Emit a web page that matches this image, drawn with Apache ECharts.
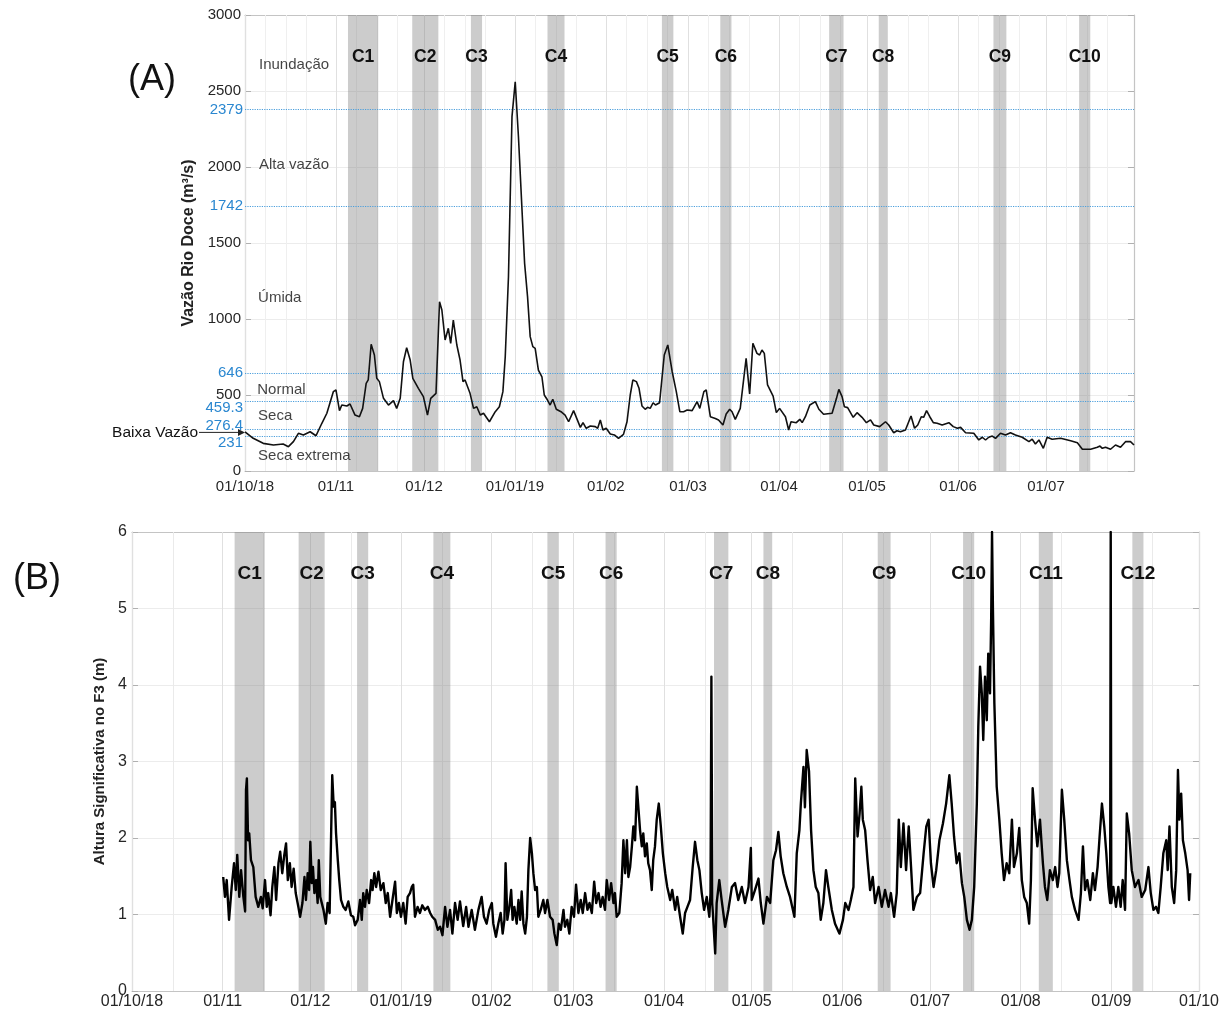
<!DOCTYPE html>
<html><head><meta charset="utf-8">
<script src="https://cdn.jsdelivr.net/npm/echarts@6/dist/echarts.min.js"></script>
<style>html,body{margin:0;padding:0;background:#fff}#c{width:1226px;height:1015px}</style>
</head><body><div id="c"></div>
<script>
// ---------- DATA (days counted from 01/10/2018) ----------
const monthStart = [0, 31, 61, 92, 123, 151, 182, 212, 243, 273, 304, 335, 365];
const monthLabel = ['01/10/18', '01/11', '01/12', '01/01/19', '01/02', '01/03', '01/04', '01/05', '01/06', '01/07', '01/08', '01/09', '01/10'];

// Panel A: Rio Doce discharge (m3/s)
const flowDay = [0,2.8,6.2,9.7,13,14.8,16.5,18.2,19.9,22.2,24.2,26.2,27.9,30.1,31,32.2,33,34.7,35.8,37.5,39,40.1,41.3,42,43,44.1,44.9,45.8,47.2,48.9,50.6,51.7,52.9,54,55.1,56.3,57.2,59.1,60.8,62.2,63.3,65.1,66.3,67.1,68.2,69.3,70.1,71,72.2,73.3,74.3,75,76.7,77.9,79,80.2,81.3,83.3,85.3,86.7,87.9,88.7,89.8,91,92.1,93.2,95.3,96.3,97.2,98.1,98.9,100,101.2,102,103.1,104,104.9,106.1,107.7,109.1,110.3,112,114.3,115.2,116.3,117.7,119.4,120.2,121.1,122,123.1,124.5,125.9,127.3,129,130.2,131.3,132.2,133.4,134.3,135.3,136.4,137.2,138.1,139.1,139.9,141.3,142.9,144.1,145.6,147,148.2,149.5,150.7,152.4,154.1,155,156.4,157.2,158.6,160.3,161.4,162.9,164,165.2,166,167.1,168.8,170.8,172,173.1,174.5,175.4,176.2,177,178.1,180,181.1,182.2,184.2,185.3,186.1,187.9,189.1,189.9,191,192.5,194.4,195.6,197.2,200.1,201.6,202.4,203.5,204.3,205.4,207.3,208.6,210.3,211.8,213.2,214.3,216.3,218.3,219.4,221.1,222.2,223.4,225.1,227,228.2,229.3,230.5,231.3,232.3,233.4,234.6,235.9,237.6,239.9,241.4,242.8,243.9,245.6,248.4,250.1,251.3,252.4,253.5,254.7,255.8,257.5,259.2,260.9,262.6,264.9,267.2,268.3,269.4,270.6,272.1,273.4,275.1,278,281.4,283.7,285.4,288.2,290.5,291.4,292.2,293.3,295,296.7,298.4,300.1,301.8,303];
const flowValue = [258,215,182,171,178,160,193,248,237,258,232,314,380,522,533,397,434,428,441,368,357,412,577,599,834,763,610,588,478,434,463,412,478,719,811,730,610,544,489,368,478,511,1114,1059,862,939,840,993,829,730,588,599,511,412,423,368,380,324,390,423,522,752,1278,2331,2561,2199,1366,1147,884,818,807,664,620,500,467,434,472,406,390,368,324,397,287,318,281,296,292,281,336,270,281,243,237,215,241,324,500,599,588,544,428,406,419,412,449,434,449,763,829,653,522,390,390,401,397,456,412,522,533,357,346,336,303,375,406,390,340,412,741,507,840,774,763,796,774,566,493,384,412,357,270,324,318,340,318,357,434,456,406,373,380,478,537,489,423,417,353,384,353,318,336,303,292,324,303,252,265,258,270,362,281,303,357,353,397,357,318,314,303,318,292,281,287,252,248,204,222,204,222,230,215,248,237,252,237,222,193,209,178,204,149,222,209,215,199,186,143,143,156,164,149,156,143,171,156,193,193,171];

// Flow class thresholds
const thresholdValue = [2379, 1742, 646, 459.3, 276.4, 231];
const thresholdLabel = ['2379', '1742', '646', '459.3', '276.4', '231'];
const lowFlowArrowValue = 254;

// Flow class names
const regionName = ['Inundação', 'Alta vazão', 'Úmida', 'Normal', 'Seca', 'Seca extrema'];
const regionDay = [4.6, 4.6, 4.3, 4.0, 4.3, 4.3];
const regionValue = [2670, 2015, 1140, 535, 365, 98];

// Events (shaded bands)
const bandName = ['C1','C2','C3','C4','C5','C6','C7','C8','C9','C10','C11','C12'];
const bandStart = [35.1, 57.0, 77.0, 103.1, 142.1, 162.0, 199.1, 216.0, 255.1, 284.3, 310.2, 342.2];
const bandEnd   = [45.4, 65.9, 80.8, 108.9, 146.0, 165.8, 204.0, 219.0, 259.5, 288.1, 315.0, 346.0];

// Panel B: significant wave height at F3 (m), [day, Hs]
const waveHeight = [[31.2,1.49],[31.8,1.23],[32.4,1.45],[33.2,0.93],[34.1,1.36],[34.9,1.67],[35.5,1.32],[36.0,1.78],[36.7,1.23],[37.3,1.58],[38.1,1.23],[38.7,1.04],[39.0,2.63],[39.3,2.78],[39.7,1.97],[40.1,2.06],[40.7,1.71],[41.5,1.62],[42.3,1.23],[43.2,1.10],[44.1,1.23],[44.7,1.08],[45.5,1.45],[46.1,1.10],[46.6,1.28],[47.4,0.99],[48.0,1.36],[48.7,1.62],[49.3,1.19],[50.1,1.67],[50.7,1.82],[51.4,1.54],[52.1,1.78],[52.7,1.93],[53.3,1.45],[54.0,1.67],[54.6,1.36],[55.3,1.60],[56.0,1.28],[56.9,1.10],[57.5,0.97],[58.3,1.15],[59.0,1.49],[59.5,1.19],[60.1,1.54],[60.6,1.32],[61.0,1.95],[61.5,1.41],[61.9,1.62],[62.4,1.28],[63.0,1.45],[63.5,1.15],[63.9,1.71],[64.4,1.23],[65.5,1.06],[66.3,0.88],[66.9,1.15],[67.6,1.02],[68.1,2.02],[68.5,2.82],[69.0,2.41],[69.4,2.47],[69.8,2.06],[70.4,1.71],[70.9,1.45],[71.5,1.19],[72.3,1.10],[73.1,1.06],[74.0,1.17],[74.9,0.99],[75.7,0.97],[76.3,0.86],[77.2,0.93],[78.0,1.19],[78.6,0.93],[79.1,1.28],[79.7,1.10],[80.3,1.32],[81.1,1.15],[81.8,1.45],[82.3,1.32],[82.9,1.54],[83.5,1.36],[84.3,1.56],[85.1,1.32],[86.0,1.41],[86.8,1.15],[87.5,1.28],[88.3,0.97],[89.1,1.19],[90.0,1.43],[90.6,1.02],[91.3,1.15],[92.0,0.97],[92.8,1.15],[93.6,0.88],[94.3,1.23],[95.1,1.28],[95.7,1.36],[96.2,1.39],[96.8,0.97],[97.7,1.10],[98.5,1.02],[99.3,1.12],[100.2,1.06],[101.2,1.10],[102.0,1.02],[102.7,0.97],[103.7,0.93],[104.6,0.80],[105.4,0.84],[106.2,0.73],[107.1,1.10],[107.9,0.84],[108.8,1.06],[109.6,0.75],[110.5,1.15],[111.4,0.93],[112.2,1.17],[113.3,0.85],[114.3,1.10],[115.1,0.84],[116.2,1.06],[117.3,0.80],[118.5,1.06],[119.6,1.23],[120.4,0.97],[121.3,0.88],[122.2,1.06],[123.1,1.15],[123.6,0.88],[124.5,0.71],[125.3,0.88],[126.1,1.02],[126.8,0.75],[127.4,0.93],[127.8,1.67],[128.4,0.93],[129.1,1.10],[129.7,1.32],[130.2,0.93],[130.8,1.10],[131.6,0.88],[132.2,1.19],[132.8,0.93],[133.3,1.30],[133.9,0.88],[134.5,0.75],[135.1,0.97],[135.6,1.58],[136.2,2.00],[136.8,1.80],[137.3,1.54],[137.9,1.32],[138.5,1.36],[139.0,0.97],[139.8,1.06],[140.7,1.19],[141.3,1.02],[142.1,1.19],[143.0,0.97],[143.9,0.93],[144.5,0.75],[145.3,0.60],[146.0,0.88],[146.7,0.80],[147.6,1.06],[148.1,0.84],[148.9,0.93],[149.6,0.75],[150.4,1.10],[151.2,0.97],[151.9,1.39],[152.7,1.02],[153.5,1.19],[154.2,1.02],[155.0,1.28],[155.8,1.06],[156.5,1.15],[157.3,1.02],[158.1,1.43],[158.8,1.15],[159.6,1.28],[160.3,1.10],[161.0,1.23],[161.8,1.06],[162.4,1.45],[163.2,1.19],[163.9,1.41],[164.7,1.15],[165.2,1.28],[165.8,0.97],[166.7,1.02],[167.5,1.41],[168.1,1.97],[168.7,1.54],[169.3,1.97],[169.8,1.49],[170.4,1.62],[171.0,1.89],[171.5,2.15],[172.1,1.97],[172.7,2.67],[173.2,2.69],[173.8,2.10],[174.4,1.89],[174.9,2.06],[175.5,1.76],[176.1,1.93],[176.6,1.67],[177.2,1.58],[177.8,1.32],[178.3,1.71],[178.9,1.89],[179.5,2.24],[180.2,2.45],[180.9,2.15],[181.6,1.80],[182.4,1.54],[183.1,1.36],[184.1,1.19],[184.8,1.32],[185.8,1.06],[186.5,1.23],[187.5,0.97],[188.4,0.75],[189.2,1.02],[190.0,1.10],[190.9,1.19],[191.8,1.62],[192.6,1.95],[193.4,1.71],[194.1,1.58],[194.9,1.28],[195.7,1.06],[196.6,1.23],[197.5,0.97],[197.9,1.28],[198.2,4.11],[198.5,1.15],[199.5,0.49],[200.0,1.15],[200.9,1.45],[201.7,1.19],[202.9,0.84],[204.0,1.06],[205.2,1.36],[206.3,1.41],[207.4,1.19],[208.6,1.36],[209.7,1.15],[210.9,1.36],[211.7,1.87],[212.0,1.19],[213.1,1.32],[214.3,1.47],[215.1,1.15],[216.0,0.88],[217.2,1.23],[218.3,1.15],[219.4,1.71],[220.3,1.84],[221.1,2.08],[221.9,1.76],[222.8,1.54],[224.0,1.36],[225.1,1.23],[226.6,0.97],[227.4,1.80],[228.3,2.10],[228.8,2.45],[229.7,2.93],[230.2,2.40],[230.8,3.15],[231.6,2.87],[232.3,2.10],[233.1,1.58],[233.9,1.36],[234.8,1.28],[235.6,0.93],[236.5,1.15],[237.4,1.58],[238.2,1.36],[239.4,1.06],[240.5,0.88],[242.0,0.75],[243.2,0.93],[244.0,1.15],[245.1,1.06],[245.9,1.19],[246.8,1.36],[247.4,2.78],[248.2,2.02],[248.9,2.32],[249.5,2.67],[250.0,2.24],[250.8,2.10],[251.6,1.71],[252.5,1.32],[253.4,1.49],[254.2,1.15],[255.4,1.36],[256.5,1.10],[257.6,1.32],[258.8,1.10],[259.6,1.28],[260.7,0.97],[261.6,1.28],[262.3,2.24],[263.0,1.62],[263.9,2.19],[264.8,1.58],[265.7,2.15],[266.5,1.62],[267.3,1.06],[268.5,1.23],[269.6,1.28],[270.8,1.80],[271.7,2.15],[272.5,2.24],[273.3,1.67],[274.2,1.36],[275.1,1.58],[276.2,1.97],[277.4,2.19],[278.5,2.45],[279.6,2.82],[280.4,2.45],[281.2,2.02],[282.1,1.67],[283.0,1.80],[283.9,1.41],[284.7,1.23],[285.6,0.93],[286.5,0.80],[287.3,0.93],[288.1,1.36],[289.0,2.45],[289.5,3.45],[290.1,4.24],[290.7,3.89],[291.2,3.28],[291.8,4.11],[292.4,3.54],[292.9,4.41],[293.5,3.89],[293.9,4.85],[294.2,6.0],[294.5,5.02],[295.0,3.76],[295.8,2.67],[296.7,2.24],[297.5,1.80],[298.3,1.45],[299.2,1.67],[300.1,1.54],[301.0,2.24],[301.7,1.62],[302.7,1.80],[303.5,2.13],[304.4,1.45],[305.2,1.23],[306.1,1.15],[306.9,0.88],[307.5,1.45],[308.1,2.65],[308.9,2.24],[309.7,1.89],[310.6,2.24],[311.6,1.67],[312.3,1.36],[313.1,1.19],[314.0,1.58],[315.0,1.45],[315.8,1.62],[316.6,1.36],[317.2,1.54],[318.1,2.63],[318.9,2.24],[319.8,1.71],[320.7,1.45],[321.5,1.23],[322.6,1.06],[323.8,0.93],[324.6,1.28],[325.3,1.89],[326.0,1.32],[326.8,1.45],[327.8,1.19],[328.7,1.54],[329.4,1.32],[330.3,1.62],[331.0,2.02],[331.8,2.45],[332.6,2.15],[333.3,1.80],[334.0,1.36],[334.6,1.15],[334.8,6.0],[335.0,1.15],[335.7,1.36],[336.6,1.10],[337.4,1.36],[338.2,1.10],[338.9,1.45],[339.7,1.06],[340.3,2.32],[341.1,2.06],[342.0,1.58],[343.1,1.36],[344.3,1.45],[345.4,1.23],[346.6,1.32],[347.7,1.62],[348.5,1.28],[349.4,1.06],[350.3,1.10],[351.1,1.02],[351.9,1.36],[352.8,1.80],[353.8,1.97],[354.3,1.58],[354.9,2.15],[355.7,1.36],[356.5,1.15],[357.2,1.58],[357.8,2.89],[358.3,2.24],[358.9,2.58],[359.5,1.97],[360.3,1.80],[361.1,1.58],[361.6,1.19],[362.0,1.54]];

const flowAxisEnd = 303;
const waveAxisEnd = 365;

// ---------- CHART ----------
const FONT = '"Liberation Sans", Arial, Helvetica, sans-serif';
const TXT = '#262626';
const AX = {color: '#c4c4c4', width: 1.2};

const monthsA = monthStart.filter(d => d <= flowAxisEnd);
const monthsB = monthStart.filter(d => d <= waveAxisEnd);
const labelFor = v => { const i = monthStart.indexOf(Math.round(v)); return i >= 0 ? monthLabel[i] : ''; };
const plainNum = v => String(v);

// vertical grid positions (styling)
const vgridA = [];
monthsA.forEach(m => { vgridA.push({xAxis: m, lineStyle: {color: '#e0e0e0'}}); [7, 14, 21].forEach(k => { if (m + k < flowAxisEnd) vgridA.push({xAxis: m + k, lineStyle: {color: '#efefef'}}); }); });
const vgridB = [];
monthsB.forEach(m => { vgridB.push({xAxis: m, lineStyle: {color: '#e0e0e0'}}); if (m + 14 < waveAxisEnd) vgridB.push({xAxis: m + 14, lineStyle: {color: '#eaeaea'}}); });

function xBottom(gi, end, months, fs, margin) {
  return {type: 'value', gridIndex: gi, position: 'bottom', min: 0, max: end,
    axisLine: {show: true, onZero: false, lineStyle: AX},
    axisTick: {show: true, inside: true, length: 5, customValues: months, lineStyle: {color: '#b0b0b0'}},
    axisLabel: {show: true, customValues: months, formatter: labelFor, color: TXT, fontSize: fs, fontFamily: FONT, margin: margin, hideOverlap: false},
    splitLine: {show: false}};
}
function xTop(gi, end, months) {
  return {type: 'value', gridIndex: gi, position: 'top', min: 0, max: end,
    axisLine: {show: true, onZero: false, lineStyle: AX},
    axisTick: {show: true, inside: true, length: 5, customValues: months, lineStyle: {color: '#b0b0b0'}},
    axisLabel: {show: false}, splitLine: {show: false}};
}

const option = {
  animation: false,
  backgroundColor: '#ffffff',
  title: [
    {text: '(A)', left: 128, top: 62, padding: 0, textStyle: {fontSize: 36, fontWeight: 'normal', color: '#111', fontFamily: FONT}},
    {text: '(B)', left: 13, top: 561, padding: 0, textStyle: {fontSize: 36, fontWeight: 'normal', color: '#111', fontFamily: FONT}}
  ],
  grid: [
    {left: 245, top: 15, right: 92, bottom: 544, outerBoundsMode: 'none'},
    {left: 132, top: 532, right: 27, bottom: 24, outerBoundsMode: 'none'}
  ],
  xAxis: [xBottom(0, flowAxisEnd, monthsA, 15, 8), xTop(0, flowAxisEnd, monthsA), xBottom(1, waveAxisEnd, monthsB, 16, 3), xTop(1, waveAxisEnd, monthsB)],
  yAxis: [
    {type: 'value', gridIndex: 0, position: 'left', min: 0, max: 3000, interval: 500,
      axisLine: {show: true, onZero: false, lineStyle: AX},
      axisTick: {show: true, inside: true, length: 6, lineStyle: {color: '#b0b0b0'}},
      axisLabel: {color: TXT, fontSize: 15, fontFamily: FONT, margin: 4, formatter: plainNum},
      splitLine: {show: true, lineStyle: {color: '#ececec', width: 1}},
      name: 'Vazão Rio Doce (m³/s)', nameLocation: 'middle', nameGap: 37,
      nameTextStyle: {fontSize: 16, fontWeight: 'bold', color: '#222', fontFamily: FONT}},
    {type: 'value', gridIndex: 0, position: 'right', min: 0, max: 3000, interval: 500,
      axisLine: {show: true, onZero: false, lineStyle: AX},
      axisTick: {show: true, inside: true, length: 6, lineStyle: {color: '#b0b0b0'}},
      axisLabel: {show: false}, splitLine: {show: false}},
    {type: 'value', gridIndex: 1, position: 'left', min: 0, max: 6, interval: 1,
      axisLine: {show: true, onZero: false, lineStyle: AX},
      axisTick: {show: true, inside: true, length: 6, lineStyle: {color: '#b0b0b0'}},
      axisLabel: {color: TXT, fontSize: 16, fontFamily: FONT, margin: 5, formatter: plainNum},
      splitLine: {show: true, lineStyle: {color: '#ececec', width: 1}},
      name: 'Altura Significativa no F3 (m)', nameLocation: 'middle', nameGap: 24,
      nameTextStyle: {fontSize: 15, fontWeight: 'bold', color: '#222', fontFamily: FONT}},
    {type: 'value', gridIndex: 1, position: 'right', min: 0, max: 6, interval: 1,
      axisLine: {show: true, onZero: false, lineStyle: AX},
      axisTick: {show: true, inside: true, length: 6, lineStyle: {color: '#b0b0b0'}},
      axisLabel: {show: false}, splitLine: {show: false}}
  ],
  series: [
    // Panel A vertical grid
    {type: 'line', xAxisIndex: 0, yAxisIndex: 0, data: [], silent: true, z: 1,
      markLine: {z: 1, silent: true, symbol: 'none', label: {show: false}, lineStyle: {type: 'solid', width: 1}, data: vgridA}},
    // Panel A event bands
    {type: 'line', xAxisIndex: 0, yAxisIndex: 0, data: [], silent: true, z: 2,
      markArea: {z: 2, silent: true, itemStyle: {color: 'rgba(120,120,120,0.38)'},
        label: {show: true, position: 'insideTop', distance: 33, formatter: '{b}', fontWeight: 'bold', fontSize: 17.5, color: '#111', fontFamily: FONT},
        data: bandName.slice(0, 10).map((n, i) => [{name: n, xAxis: bandStart[i]}, {xAxis: bandEnd[i]}])}},
    // Panel A thresholds
    {type: 'line', xAxisIndex: 0, yAxisIndex: 0, data: [], silent: true, z: 3,
      markLine: {z: 3, silent: true, symbol: 'none',
        lineStyle: {color: '#4c9fdc', type: 'dotted', width: 1.2},
        label: {show: true, position: 'start', distance: 2, color: '#2a87d0', fontSize: 15, fontFamily: FONT,
          rich: {dn: {color: '#2a87d0', fontSize: 15, fontFamily: FONT, padding: [13, 0, 0, 0]},
                 up: {color: '#2a87d0', fontSize: 15, fontFamily: FONT, padding: [0, 0, 6, 0]}}},
        data: thresholdValue.map((v, i) => {
          const tag = (i === 3 || i === 5) ? 'dn' : (i === 4 ? 'up' : '');
          return {yAxis: v, label: {formatter: tag ? '{' + tag + '|' + thresholdLabel[i] + '}' : thresholdLabel[i]}};
        })}},
    // Panel A flow line
    {type: 'line', name: 'Vazão', xAxisIndex: 0, yAxisIndex: 0, z: 5, symbol: 'none', smooth: false,
      lineStyle: {color: '#111', width: 1.6}, data: flowDay.map((d, i) => [d, flowValue[i]])},
    // Panel A class names
    {type: 'scatter', xAxisIndex: 0, yAxisIndex: 0, symbolSize: 1, silent: true, z: 6,
      itemStyle: {color: 'rgba(0,0,0,0)'},
      label: {show: true, position: 'right', distance: 0, formatter: '{b}', color: '#111', fontSize: 15, fontFamily: FONT},
      data: regionName.map((n, i) => ({name: n, value: [regionDay[i], regionValue[i]]}))},
    // Panel B vertical grid
    {type: 'line', xAxisIndex: 2, yAxisIndex: 2, data: [], silent: true, z: 1,
      markLine: {z: 1, silent: true, symbol: 'none', label: {show: false}, lineStyle: {type: 'solid', width: 1}, data: vgridB}},
    // Panel B bands
    {type: 'line', xAxisIndex: 2, yAxisIndex: 2, data: [], silent: true, z: 2,
      markArea: {z: 2, silent: true, itemStyle: {color: 'rgba(120,120,120,0.38)'},
        label: {show: true, position: 'insideTop', distance: 32, formatter: '{b}', fontWeight: 'bold', fontSize: 19, color: '#111', fontFamily: FONT},
        data: bandName.map((n, i) => [{name: n, xAxis: bandStart[i]}, {xAxis: bandEnd[i]}])}},
    // Panel B wave height
    {type: 'line', name: 'Hs', xAxisIndex: 2, yAxisIndex: 2, z: 5, symbol: 'none',
      lineStyle: {color: '#000', width: 2.4, join: 'round'}, data: waveHeight}
  ]
};

const chart = echarts.init(document.getElementById('c'), null, {renderer: 'canvas'});
chart.setOption(option);

// "Baixa Vazão" arrow annotation, anchored through the axis scales
const p = chart.convertToPixel({xAxisIndex: 0, yAxisIndex: 0}, [0, lowFlowArrowValue]);
chart.setOption({graphic: [
  {type: 'line', silent: true, shape: {x1: p[0] - 46, y1: p[1], x2: p[0] - 4, y2: p[1]}, style: {stroke: '#222', lineWidth: 1}},
  {type: 'polygon', silent: true, shape: {points: [[p[0], p[1]], [p[0] - 7, p[1] - 3.5], [p[0] - 7, p[1] + 3.5]]}, style: {fill: '#222'}},
  {type: 'text', silent: true, x: p[0] - 47, y: p[1], style: {text: 'Baixa Vazão', align: 'right', verticalAlign: 'middle', textAlign: 'right', textVerticalAlign: 'middle', font: '15.5px "Liberation Sans", Arial, sans-serif', fill: '#111'}}
]});
</script>
</body></html>
